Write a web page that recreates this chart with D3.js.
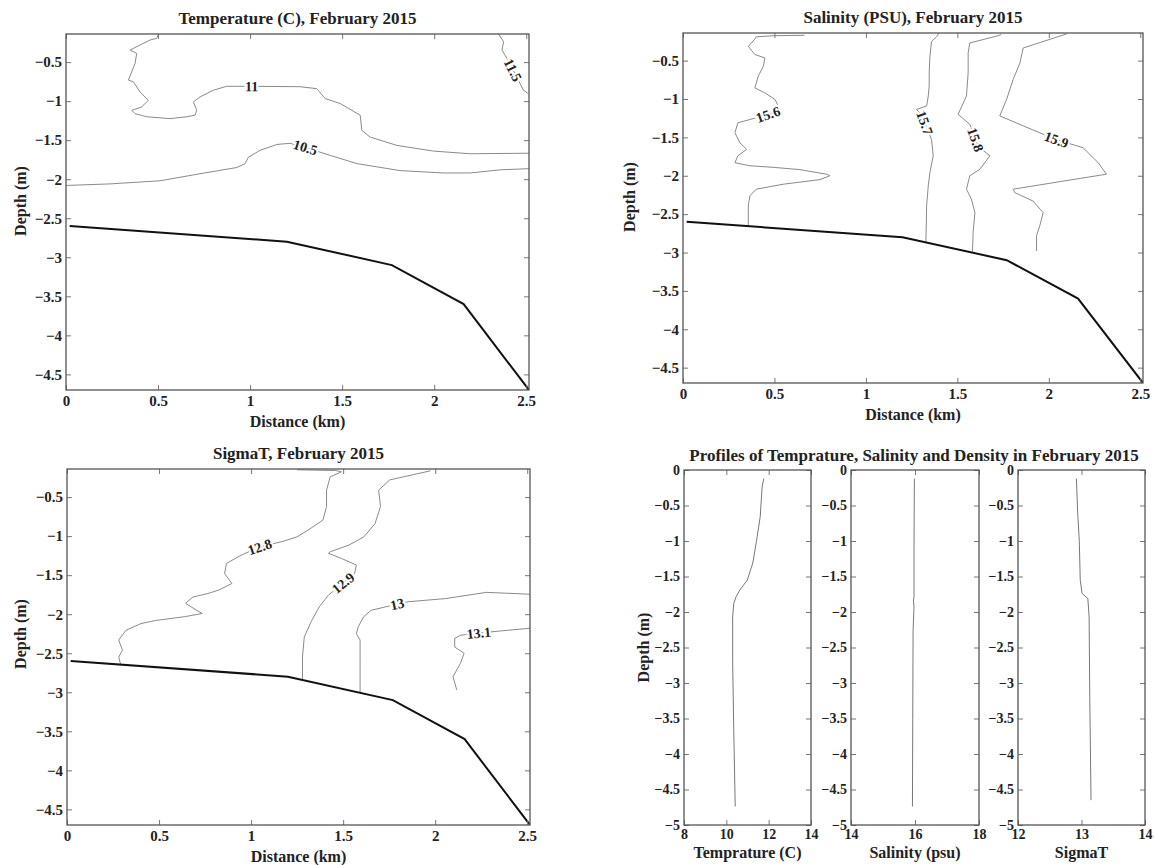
<!DOCTYPE html>
<html>
<head>
<meta charset="utf-8">
<script src="https://cdn.jsdelivr.net/npm/d3@7"></script>
<style>
body { margin: 0; background: #fff; }
text { font-family: "Liberation Serif", "Times New Roman", serif; font-weight: bold; fill: #222; }
</style>
</head>
<body>
<svg id="chart" width="1155" height="865"></svg>
<script>
// ---- data ----

// section axes
var distTicks = [0, 0.5, 1, 1.5, 2, 2.5];
var depthTicks = [-0.5, -1, -1.5, -2, -2.5, -3, -3.5, -4, -4.5];

// bottom profile (bathymetry), km / m
var bottomDist = [0.02, 1.2, 1.77, 2.16, 2.515];
var bottomDepth = [-2.6, -2.8, -3.1, -3.6, -4.7];

// temperature contours [dist, depth]
var temp115 = [[2.35,-0.14],[2.377,-0.24],[2.368,-0.346],[2.395,-0.45],[2.428,-0.6],[2.485,-0.86],[2.51,-0.9]];
var temp11 = [[0.502,-0.14],[0.493,-0.195],[0.457,-0.217],[0.402,-0.281],[0.348,-0.346],[0.384,-0.388],[0.375,-0.517],
  [0.357,-0.624],[0.339,-0.73],[0.366,-0.753],[0.402,-0.882],[0.447,-0.989],[0.411,-1.075],[0.357,-1.117],[0.375,-1.16],
  [0.438,-1.2],[0.565,-1.224],[0.656,-1.2],[0.701,-1.18],[0.71,-1.117],[0.692,-1.01],[0.728,-0.946],[0.8,-0.86],
  [0.873,-0.81],[1.009,-0.81],[1.27,-0.815],[1.362,-0.84],[1.408,-0.967],[1.489,-1.03],[1.598,-1.18],[1.607,-1.375],
  [1.652,-1.46],[1.797,-1.567],[1.996,-1.64],[2.196,-1.674],[2.515,-1.667]];
var temp105 = [[0,-2.08],[0.239,-2.06],[0.511,-2.02],[0.728,-1.93],[0.928,-1.85],[0.973,-1.8],[0.99,-1.72],[1.054,-1.63],
  [1.145,-1.555],[1.217,-1.54],[1.3,-1.59],[1.38,-1.654],[1.58,-1.8],[1.815,-1.89],[2.05,-1.92],[2.196,-1.92],
  [2.359,-1.88],[2.515,-1.865]];
var tempLevels = ["11.5", "11", "10.5"];
var tempLabelIdx = [4, 24, 10];

// salinity contours
var sal156 = [[0.664,-0.17],[0.5,-0.175],[0.4,-0.19],[0.393,-0.218],[0.357,-0.314],[0.393,-0.42],[0.448,-0.465],
  [0.439,-0.574],[0.412,-0.7],[0.393,-0.855],[0.448,-0.92],[0.503,-1.006],[0.53,-1.136],[0.465,-1.2],[0.4,-1.245],
  [0.3,-1.31],[0.284,-1.44],[0.311,-1.57],[0.348,-1.656],[0.3,-1.74],[0.284,-1.83],[0.366,-1.87],[0.493,-1.89],
  [0.639,-1.92],[0.785,-1.98],[0.803,-2.0],[0.749,-2.05],[0.548,-2.11],[0.4,-2.175],[0.366,-2.26],[0.357,-2.39],
  [0.357,-2.65]];
var sal157 = [[1.4,-0.14],[1.386,-0.19],[1.359,-0.25],[1.35,-0.44],[1.346,-0.66],[1.346,-0.83],[1.341,-0.96],
  [1.332,-1.09],[1.277,-1.136],[1.31,-1.22],[1.322,-1.31],[1.34,-1.42],[1.359,-1.53],[1.368,-1.74],[1.35,-1.96],
  [1.341,-2.13],[1.332,-2.39],[1.328,-2.87]];
var sal158 = [[1.74,-0.16],[1.723,-0.175],[1.568,-0.27],[1.559,-0.4],[1.559,-0.66],[1.55,-0.96],[1.504,-1.2],
  [1.568,-1.33],[1.59,-1.45],[1.6,-1.53],[1.615,-1.62],[1.678,-1.74],[1.623,-1.915],[1.568,-2.0],[1.55,-2.175],
  [1.577,-2.305],[1.596,-2.48],[1.586,-2.74],[1.583,-2.99]];
var sal159 = [[2.1,-0.15],[1.86,-0.335],[1.842,-0.53],[1.805,-0.747],[1.769,-1.006],[1.732,-1.22],[1.86,-1.35],
  [2.042,-1.53],[2.187,-1.634],[2.27,-1.83],[2.315,-1.98],[2.078,-2.07],[1.805,-2.175],[1.814,-2.22],[1.914,-2.33],
  [1.969,-2.48],[1.951,-2.65],[1.933,-2.78],[1.933,-2.98]];
var salLevels = ["15.6", "15.7", "15.8", "15.9"];
var salLabelIdx = [13, 10, 9, 7];

// sigma-t contours
var sig128 = [[1.25,-0.15],[1.46,-0.16],[1.491,-0.176],[1.43,-0.24],[1.41,-0.41],[1.41,-0.62],[1.39,-0.795],
  [1.309,-0.923],[1.249,-1.01],[1.168,-1.07],[1.047,-1.137],[0.946,-1.244],[0.866,-1.35],[0.856,-1.48],[0.896,-1.606],
  [0.825,-1.69],[0.765,-1.735],[0.684,-1.78],[0.644,-1.86],[0.704,-1.95],[0.735,-1.99],[0.644,-2.03],[0.482,-2.08],
  [0.402,-2.12],[0.321,-2.205],[0.281,-2.33],[0.301,-2.46],[0.281,-2.55],[0.291,-2.64]];
var sig129 = [[1.975,-0.163],[1.753,-0.28],[1.693,-0.41],[1.703,-0.62],[1.673,-0.84],[1.612,-1.01],[1.531,-1.115],
  [1.43,-1.2],[1.42,-1.22],[1.491,-1.286],[1.572,-1.37],[1.562,-1.48],[1.5,-1.6],[1.42,-1.756],[1.37,-1.906],
  [1.33,-2.077],[1.289,-2.29],[1.279,-2.547],[1.279,-2.83]];
var sig13 = [[2.515,-1.744],[2.278,-1.72],[2.056,-1.8],[1.854,-1.84],[1.794,-1.87],[1.652,-1.95],[1.612,-2.03],
  [1.582,-2.16],[1.572,-2.25],[1.592,-2.33],[1.592,-2.55],[1.592,-3.0]];
var sig131 = [[2.515,-2.18],[2.399,-2.205],[2.237,-2.24],[2.137,-2.27],[2.106,-2.31],[2.106,-2.42],[2.157,-2.5],
  [2.137,-2.63],[2.097,-2.8],[2.117,-2.97]];
var sigLevels = ["12.8", "12.9", "13", "13.1"];
var sigLabelIdx = [10, 12, 4, 2];

// station profiles
var profDepthTicks = [0, -0.5, -1, -1.5, -2, -2.5, -3, -3.5, -4, -4.5, -5];
var tempDepth = [-0.12, -0.24, -0.66, -0.99, -1.31, -1.55, -1.69, -1.78, -1.88, -2.07, -2.72, -3.66, -4.74];
var tempValue = [11.77, 11.69, 11.6, 11.43, 11.25, 10.99, 10.64, 10.47, 10.35, 10.3, 10.3, 10.35, 10.42];
var salDepth = [-0.12, -1.0, -1.78, -1.85, -1.92, -2.26, -3.5, -4.74];
var salValue = [15.98, 15.97, 15.97, 15.95, 15.97, 15.94, 15.93, 15.92];
var sigDepth = [-0.12, -0.61, -0.99, -1.55, -1.74, -1.81, -2.07, -3.19, -4.65];
var sigValue = [12.92, 12.94, 12.965, 12.98, 13.01, 13.1, 13.12, 13.13, 13.15];

// ---- drawing ----
var svg = d3.select("#chart");
var fmt = d3.format("~g");
var clipId = 0;

// MATLAB style box with inward ticks on all four sides
function boxAxes(g, x, y, box, xt, yt, fs, xpad) {
	var axes = [
		[d3.axisBottom(x).tickValues(xt).tickFormat(fmt).tickPadding(xpad), "translate(0," + box.bottom + ")"],
		[d3.axisTop(x).tickValues(xt).tickFormat(""), "translate(0," + box.top + ")"],
		[d3.axisLeft(y).tickValues(yt).tickFormat(fmt).tickPadding(4), "translate(" + box.left + ",0)"],
		[d3.axisRight(y).tickValues(yt).tickFormat(""), "translate(" + box.right + ",0)"]
	];
	axes.forEach(function(a) {
		g.append("g")
			.attr("transform", a[1])
			.call(a[0].tickSizeInner(-5).tickSizeOuter(0))
			.attr("font-family", null)
			.attr("font-size", fs)
			.call(function(s) { s.select(".domain").remove(); })
			.selectAll(".tick line").attr("stroke", "#777");
	});
	g.append("rect")
		.attr("x", box.left).attr("y", box.top)
		.attr("width", box.right - box.left).attr("height", box.bottom - box.top)
		.attr("fill", "none").attr("stroke", "#555").attr("stroke-width", 1.3);
}

function labelAngle(p, i, x, y) {
	var a = p[Math.max(i - 1, 0)], b = p[Math.min(i + 1, p.length - 1)];
	var ang = Math.atan2(y(b[1]) - y(a[1]), x(b[0]) - x(a[0])) * 180 / Math.PI;
	if (ang > 90) ang -= 180;
	if (ang < -90) ang += 180;
	return ang;
}

function sectionPanel(box, title, contours, levels, labelIdx, ylabY, ylabX) {
	var g = svg.append("g");
	var x = d3.scaleLinear().domain([0, 2.515]).range([box.left, box.right]);
	var y = d3.scaleLinear().domain([-4.7, -0.14]).range([box.bottom, box.top]);
	var line = d3.line().x(function(d) { return x(d[0]); }).y(function(d) { return y(d[1]); });

	var id = "clip" + (clipId++);
	g.append("clipPath").attr("id", id).append("rect")
		.attr("x", box.left).attr("y", box.top)
		.attr("width", box.right - box.left).attr("height", box.bottom - box.top);
	var plot = g.append("g").attr("clip-path", "url(#" + id + ")");

	plot.selectAll("path.contour").data(contours).enter().append("path")
		.attr("class", "contour")
		.attr("d", line)
		.attr("fill", "none").attr("stroke", "#8a8a8a").attr("stroke-width", 1);

	var bottom = d3.zip(bottomDist, bottomDepth);
	plot.append("path").attr("d", line(bottom))
		.attr("fill", "none").attr("stroke", "#111").attr("stroke-width", 2);

	contours.forEach(function(c, k) {
		var p = c[labelIdx[k]];
		plot.append("text")
			.attr("transform", "translate(" + x(p[0]) + "," + y(p[1]) + ") rotate(" + labelAngle(c, labelIdx[k], x, y) + ")")
			.attr("text-anchor", "middle").attr("dy", "0.35em")
			.attr("font-size", 14)
			.attr("stroke", "#fff").attr("stroke-width", 4).attr("paint-order", "stroke")
			.text(levels[k]);
	});

	boxAxes(g, x, y, box, distTicks, depthTicks, 15, 5);

	g.append("text").attr("x", (box.left + box.right) / 2).attr("y", box.top - 10)
		.attr("text-anchor", "middle").attr("font-size", 17).text(title);
	g.append("text").attr("x", (box.left + box.right) / 2).attr("y", box.bottom + 37)
		.attr("text-anchor", "middle").attr("font-size", 16).text("Distance (km)");
	g.append("text").attr("transform", "translate(" + ylabX + "," + ylabY + ") rotate(-90)")
		.attr("text-anchor", "middle").attr("dy", "0.35em").attr("font-size", 16).text("Depth (m)");
}

sectionPanel({left: 66, right: 529, top: 34, bottom: 390}, "Temperature (C), February 2015",
	[temp115, temp11, temp105], tempLevels, tempLabelIdx, 201, 20);
sectionPanel({left: 683, right: 1143, top: 33, bottom: 383}, "Salinity (PSU), February 2015",
	[sal156, sal157, sal158, sal159], salLevels, salLabelIdx, 197, 629);
sectionPanel({left: 67, right: 530, top: 469, bottom: 825}, "SigmaT, February 2015",
	[sig128, sig129, sig13, sig131], sigLevels, sigLabelIdx, 634, 20);

// profiles panel
function profilePanel(box, domain, ticks, depth, value, xlabel) {
	var g = svg.append("g");
	var x = d3.scaleLinear().domain(domain).range([box.left, box.right]);
	var y = d3.scaleLinear().domain([-5, 0]).range([box.bottom, box.top]);
	var line = d3.line().x(function(d) { return x(d[0]); }).y(function(d) { return y(d[1]); });
	g.append("path").attr("d", line(d3.zip(value, depth)))
		.attr("fill", "none").attr("stroke", "#777").attr("stroke-width", 1);
	boxAxes(g, x, y, box, ticks, profDepthTicks, 14, 4);
	g.append("text").attr("x", (box.left + box.right) / 2).attr("y", box.bottom + 33)
		.attr("text-anchor", "middle").attr("font-size", 16).text(xlabel);
}

var profTop = 470, profBottom = 825;
profilePanel({left: 684, right: 811, top: profTop, bottom: profBottom}, [8, 14], [8, 10, 12, 14], tempDepth, tempValue, "Temprature (C)");
profilePanel({left: 851, right: 979, top: profTop, bottom: profBottom}, [14, 18], [14, 16, 18], salDepth, salValue, "Salinity (psu)");
profilePanel({left: 1018, right: 1145, top: profTop, bottom: profBottom}, [12, 14], [12, 13, 14], sigDepth, sigValue, "SigmaT");

svg.append("text").attr("x", 914).attr("y", 461).attr("text-anchor", "middle").attr("font-size", 17)
	.text("Profiles of Temprature, Salinity and Density in February 2015");
svg.append("text").attr("transform", "translate(643," + (profTop + profBottom) / 2 + ") rotate(-90)")
	.attr("text-anchor", "middle").attr("dy", "0.35em").attr("font-size", 16).text("Depth (m)");
</script>
</body>
</html>
